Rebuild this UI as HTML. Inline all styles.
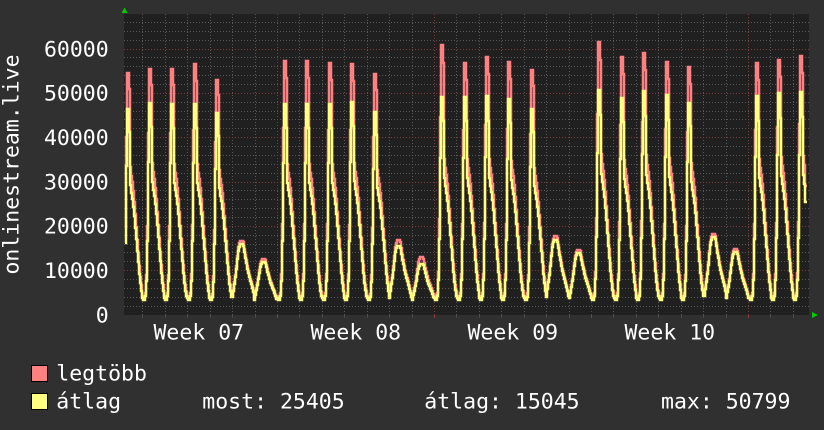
<!DOCTYPE html>
<html>
<head>
<meta charset="utf-8">
<style>
html,body{margin:0;padding:0;background:#303030;width:824px;height:430px;overflow:hidden;}
svg{display:block}
text{font-family:"DejaVu Sans Mono","Liberation Mono",monospace;font-size:21.5px;fill:#ffffff}
</style>
</head>
<body>
<svg id="s" width="824" height="430" viewBox="0 0 824 430" xmlns="http://www.w3.org/2000/svg">
<rect x="0" y="0" width="824" height="430" fill="#303030"/>
<rect x="124" y="14" width="685" height="301" fill="#202020"/>
<path id="gminor" fill="none" stroke="#585858" stroke-width="1" stroke-dasharray="1 2"/>
<path id="gmajor" fill="none" stroke="#7a3c3c" stroke-width="1" stroke-dasharray="1 2"/>
<path id="tminor" fill="none" stroke="#4a4a4a" stroke-width="1"/>
<path id="tmajor" fill="none" stroke="#8a3a3a" stroke-width="1"/>
<path id="red" fill="none" stroke="#ff8080" stroke-width="2.5" stroke-linejoin="miter"/>
<path id="yel" fill="none" stroke="#ffff80" stroke-width="2.5" stroke-linejoin="miter"/>

<polygon points="121.5,13 127.5,13 124.5,7.5" fill="#00cc00"/>
<polygon points="812,312 812,318 818,315" fill="#00cc00"/>

<text x="108.7" y="56.3" text-anchor="end">60000</text>
<text x="108.7" y="100.6" text-anchor="end">50000</text>
<text x="108.7" y="145" text-anchor="end">40000</text>
<text x="108.7" y="189.3" text-anchor="end">30000</text>
<text x="108.7" y="233.6" text-anchor="end">20000</text>
<text x="108.7" y="278" text-anchor="end">10000</text>
<text x="108.7" y="322.3" text-anchor="end">0</text>

<text x="198.8" y="339.3" text-anchor="middle">Week 07</text>
<text x="355.8" y="339.3" text-anchor="middle">Week 08</text>
<text x="512.8" y="339.3" text-anchor="middle">Week 09</text>
<text x="669.8" y="339.3" text-anchor="middle">Week 10</text>

<text transform="translate(18.3,164.5) rotate(-90)" text-anchor="middle">onlinestream.live</text>

<rect x="31.5" y="365.5" width="16" height="16" fill="#ff8080" stroke="#000" stroke-width="1"/>
<rect x="31.5" y="393.5" width="16" height="16" fill="#ffff80" stroke="#000" stroke-width="1"/>
<text x="56.3" y="380.6">legtöbb</text>
<text x="56.3" y="408.5">átlag</text>
<text x="202.3" y="408.5">most: 25405</text>
<text x="424.3" y="408.5">átlag: 15045</text>
<text x="661" y="408.5">max: 50799</text>
</svg>
<script>
(function(){
function Y(v){return 315 - v*266/60;}
var minor='',major='',tmi='',tma='';
for(var j=1;j<=33;j++){
  var v=j*2; var y=Math.floor(Y(v))+0.5;
  var seg='M124,'+y+'H809';
  if(v%10===0) major+=seg; else minor+=seg;
}
for(var k=0;k<30;k++){
  var x=Math.round(277+(k-6)*157/7)+0.5;
  var seg2='M'+x+',14V315';
  var t='M'+x+',315V318';
  if((k-6)%7===0){major+=seg2;tma+=t;} else {minor+=seg2;tmi+=t;}
}
document.getElementById('gminor').setAttribute('d',minor);
document.getElementById('gmajor').setAttribute('d',major);
document.getElementById('tminor').setAttribute('d',tmi);
document.getElementById('tmajor').setAttribute('d',tma);

var D=[
[54.5,46.5,0],[55.6,47.8,0],[55.6,47.6,0],[56.6,47.6,0],[53.0,45.5,0],[16.8,16.0,1],[12.6,12.0,1],
[57.3,47.6,0],[57.3,47.6,0],[56.8,47.6,0],[56.6,48.0,0],[54.4,45.7,0],[16.9,15.6,1],[13.0,11.5,1],
[60.9,49.2,0],[56.8,49.2,0],[58.1,49.4,0],[57.0,48.7,0],[55.3,46.4,0],[17.8,17.0,1],[14.7,14.0,1],
[61.6,50.8,0],[58.2,48.9,0],[59.2,50.5,0],[57.1,49.6,0],[55.9,47.9,0],[18.3,17.5,1],[14.9,14.2,1],
[56.8,49.4,0],[57.5,50.0,0],[58.4,50.3,0]
];
function ps(k){ if(k===30) return 800; return Math.round(126.5+22.47*k);}
var W=[0.01,0,0,0.02,0.1,0.3,0.7,1,1,0.88,0.6,0.56,0.53,0.49,0.44,0.38,0.32,0.26,0.2,0.14,0.09,0.05,0.02,0.01];
var WR=[0.02,0.01,0.01,0.03,0.11,0.32,0.72,1,1,0.93];
var E=[0.13,0.24,0.35,0.46,0.6,0.75,0.89,0.96,1,1,1,0.97,0.87,0.77,0.69,0.6,0.52,0.46,0.4,0.34,0.28,0.21,0.14,0.08];
function val(i){
  var k=0; while(k<30 && i>=ps(k+1)-7) k++;
  var dx=i-ps(k); var idx=Math.max(0,Math.min(23,dx+7));
  var R=D[k][0],P=D[k][1],we=D[k][2];
  var y,r,B;
  if(we){ B=2.2; y=B+E[idx]*(P-B); r=2.5+E[idx]*(R-2.5); if(r<y+0.3) r=y+0.3; return [y,r]; }
  B=3.3; y=B+W[idx]*(P-B);
  if(k===30 && dx>=5) y=25.4;
  if(dx<=2) r=B+WR[idx]*(R-B); else r=y+(y-B)*0.12+1.0;
  if(r<y) r=y;
  return [y,r];
}
var py='',pr='';
for(var i=125;i<=806;i++){
  var vv=val(i);
  var yy=Math.round(Y(vv[0])), yr=Math.round(Y(vv[1]));
  if(i===125){py='M'+i+','+yy;pr='M'+i+','+yr;}
  else{py+='V'+yy;pr+='V'+yr;}
  py+='H'+(i+1);pr+='H'+(i+1);
}
document.getElementById('yel').setAttribute('d',py);
document.getElementById('red').setAttribute('d',pr);
})();
</script>
</body>
</html>
